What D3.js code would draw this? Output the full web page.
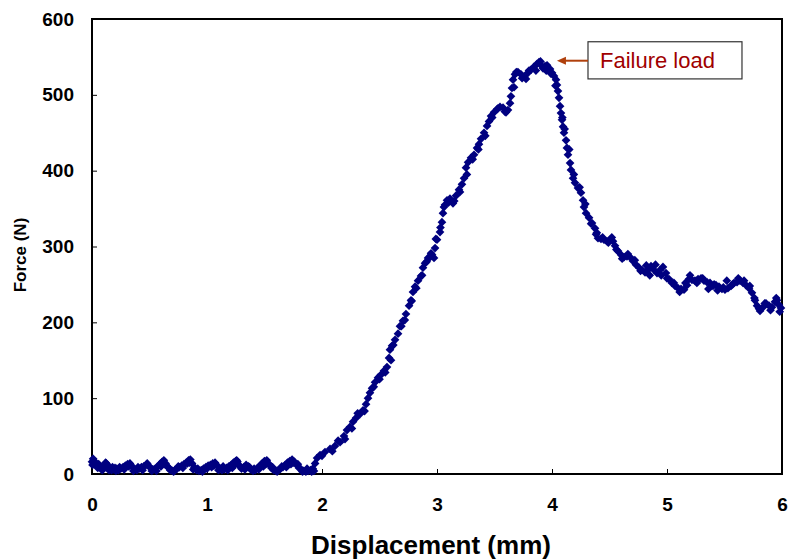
<!DOCTYPE html>
<html>
<head>
<meta charset="utf-8">
<script src="https://cdn.jsdelivr.net/npm/d3@7"></script>
<style>
  html, body { margin: 0; padding: 0; background: #fff; }
  svg { display: block; font-family: "Liberation Sans", Arial, sans-serif; }
</style>
</head>
<body>
<svg id="chart" width="788" height="560"></svg>
<script>
// ---- Data ----
const displacement = [
  0.000,0.010,0.020,0.035,0.050,0.065,0.080,0.095,0.110,0.125,0.140,0.155,0.170,0.185,0.200,0.215,0.230,0.250,0.270,0.290,
  0.310,0.330,0.350,0.370,0.390,0.410,0.430,0.450,0.470,0.490,0.510,0.530,0.550,0.570,0.590,0.610,0.625,0.640,0.660,0.680,
  0.700,0.720,0.740,0.760,0.780,0.800,0.820,0.840,0.855,0.870,0.890,0.910,0.930,0.950,0.970,0.990,1.010,1.030,1.050,1.070,
  1.090,1.110,1.130,1.150,1.170,1.190,1.210,1.230,1.250,1.265,1.280,1.300,1.320,1.340,1.360,1.380,1.400,1.420,1.440,1.460,
  1.480,1.500,1.520,1.540,1.560,1.580,1.600,1.620,1.640,1.660,1.680,1.700,1.720,1.740,1.760,1.780,1.800,1.820,1.840,1.860,
  1.880,1.900,1.920,1.940,
  1.957,1.983,2.026,2.070,2.113,2.157,2.191,2.217,2.243,2.270,2.296,2.330,2.357,2.383,2.400,2.417,2.435,2.461,2.487,2.513,
  2.539,2.565,2.583,2.591,2.609,2.635,2.661,2.678,2.704,2.730,2.757,2.774,2.791,2.809,2.835,2.861,2.878,2.896,2.922,2.948,
  2.957,2.974,2.983,3.000,3.026,3.043,3.052,3.070,3.087,3.113,3.139,3.165,3.191,3.217,3.235,3.252,3.270,3.296,3.322,3.348,
  3.365,3.383,3.409,3.435,3.452,3.470,3.496,3.522,3.548,3.574,3.600,3.617,3.635,3.643,3.652,3.661,3.678,3.704,3.730,3.757,
  3.774,3.791,3.817,3.843,3.870,3.887,3.904,3.922,3.939,3.957,3.983,4.000,4.017,4.035,4.043,4.052,4.061,4.070,4.078,4.087,
  4.096,4.104,4.122,4.130,4.139,4.157,4.165,4.183,4.200,4.226,4.252,4.270,4.278,4.296,4.322,4.348,4.374,4.383,4.400,4.426,
  4.452,4.478,4.504,4.530,4.548,4.574,4.600,4.626,4.652,4.678,4.704,4.730,4.757,4.783,4.809,4.835,4.861,4.887,4.913,4.939,
  4.965,4.991,5.017,5.043,5.070,5.096,5.122,5.148,5.174,5.191,5.217,5.243,5.270,5.296,5.322,5.348,5.374,5.400,5.426,5.452,
  5.478,5.504,5.530,5.557,5.583,5.609,5.635,5.661,5.687,5.713,5.739,5.765,5.783,5.809,5.835,5.861,5.887,5.913,5.939,5.957,
  5.974,5.991,
  // additional scattered readings
  0.005,0.028,0.058,0.088,0.118,0.148,0.178,0.208,0.240,0.280,0.320,0.360,0.400,0.440,0.480,0.520,0.560,0.600,0.632,0.670,
  0.710,0.750,0.790,0.830,0.848,0.880,0.920,0.960,1.000,1.040,1.060,1.100,1.140,1.180,1.220,1.240,1.258,1.290,1.330,1.370,
  1.410,1.450,1.490,1.510,1.530,1.570,1.610,1.650,1.690,1.730,1.750,1.790,1.830,1.870,1.910,1.930,
  2.000,2.090,2.140,2.200,2.260,2.310,2.370,2.450,2.500,2.550,2.600,2.620,2.690,2.720,2.780,2.820,2.870,2.910,2.940,2.990,
  3.030,3.060,3.100,3.150,3.200,3.260,3.310,3.360,3.420,3.480,3.530,3.590,3.670,3.690,3.740,3.800,3.860,3.900,3.950,3.990,
  4.030,4.090,4.110,4.150,4.190,4.240,4.290,4.340,4.390,4.440,4.490,4.520,4.560,4.610,4.660,4.720,4.770,4.820,4.850,4.900,
  4.950,5.000,5.060,5.110,5.160,5.200,5.260,5.310,5.360,5.410,5.440,5.490,5.520,5.570,5.620,5.670,5.720,5.760,5.800,5.850,
  5.900,5.950,5.980
];
const force = [
  16,20,17,12,8,10,9,6,10,14,11,7,5,6,8,7,5,7,9,11,
  13,14,10,6,5,7,9,10,12,11,8,6,7,10,13,16,18,14,9,5,
  4,5,7,9,11,13,15,18,19,14,9,5,4,5,7,9,11,12,14,15,
  11,7,5,6,8,10,12,15,17,16,11,7,9,12,10,6,4,5,8,11,
  14,17,18,13,8,5,4,5,7,9,12,15,17,19,16,12,8,6,4,3,
  4,5,7,14,
  21,25,29,33,37,42,50,58,62,69,74,79,84,92,100,107,113,121,127,131,
  136,141,153,164,169,177,185,195,202,211,222,229,240,247,255,261,272,278,285,291,
  289,285,298,309,319,332,344,355,361,363,357,367,375,382,390,404,411,417,421,430,
  435,442,450,459,465,472,477,481,484,483,477,480,489,498,509,520,527,530,527,524,
  521,529,533,537,541,543,539,535,538,539,534,529,525,520,513,505,496,485,476,467,
  458,450,440,430,421,410,401,390,384,377,371,361,352,344,338,331,324,316,311,310,
  309,307,309,307,301,294,289,286,287,286,281,276,272,269,266,269,274,269,265,269,
  273,265,257,252,248,245,244,243,249,257,256,255,257,258,255,253,252,248,249,247,
  244,243,245,248,252,253,255,252,249,245,239,229,222,215,220,225,222,220,227,229,
  223,219,
  // additional scattered readings
  12,14,13,5,15,5,9,4,9,6,10,4,9,5,14,4,4,10,13,8,
  3,10,8,14,15,6,7,3,7,9,11,5,10,5,8,12,18,10,6,9,
  7,6,10,13,14,9,3,10,9,13,15,13,3,7,3,4,
  24,30,44,46,60,80,83,115,125,134,150,170,195,203,228,245,262,280,286,310,
  325,352,358,360,372,395,415,428,446,470,482,478,510,530,522,532,532,544,532,528,
  512,470,455,428,395,378,356,330,318,312,305,312,296,284,290,282,268,275,262,276,
  262,258,252,240,252,262,252,258,244,250,242,246,255,250,258,255,248,232,218,225,
  216,232,214
];
const xTicks = [0, 1, 2, 3, 4, 5, 6];
const yTicks = [0, 100, 200, 300, 400, 500, 600];
const annotation = { label: "Failure load", tipX: 4.043, tipY: 545, boxX0: 4.313, boxX1: 5.652, boxY0: 570, boxY1: 521 };

(function () {
  const svg = d3.select("#chart");
  const mLeft = 92, mRight = 782, mTop = 19, mBottom = 474;
  const x = d3.scaleLinear().domain([0, 6]).range([mLeft, mRight]);
  const y = d3.scaleLinear().domain([0, 600]).range([mBottom, mTop]);

  // frame
  svg.append("rect")
    .attr("x", mLeft).attr("y", mTop)
    .attr("width", mRight - mLeft).attr("height", mBottom - mTop)
    .attr("fill", "none").attr("stroke", "#000").attr("stroke-width", 2);

  // x axis
  const gx = svg.append("g").attr("transform", `translate(0,${mBottom})`)
    .call(d3.axisBottom(x).tickValues(xTicks).tickFormat(d3.format("d"))
      .tickSizeInner(-5).tickSizeOuter(0).tickPadding(24));
  gx.select(".domain").remove();
  gx.selectAll(".tick line").attr("stroke", "#000").attr("stroke-width", 1);
  gx.selectAll(".tick text").attr("font-size", 19).attr("font-weight", "bold")
    .attr("fill", "#000").attr("font-family", "'Liberation Sans', Arial, sans-serif");

  // y axis
  const gy = svg.append("g").attr("transform", `translate(${mLeft},0)`)
    .call(d3.axisLeft(y).tickValues(yTicks).tickFormat(d3.format("d"))
      .tickSizeInner(-5).tickSizeOuter(0).tickPadding(18));
  gy.select(".domain").remove();
  gy.selectAll(".tick line").attr("stroke", "#000").attr("stroke-width", 1);
  gy.selectAll(".tick text").attr("font-size", 19).attr("font-weight", "bold")
    .attr("fill", "#000").attr("font-family", "'Liberation Sans', Arial, sans-serif");

  // axis titles
  svg.append("text")
    .attr("x", (mLeft + mRight) / 2 - 6).attr("y", 554)
    .attr("text-anchor", "middle").attr("font-size", 26).attr("font-weight", "bold")
    .text("Displacement (mm)");
  svg.append("text")
    .attr("transform", `translate(26,255) rotate(-90)`)
    .attr("text-anchor", "middle").attr("font-size", 17).attr("font-weight", "bold")
    .text("Force (N)");

  // data markers (diamonds)
  const pts = displacement.map((d, i) => ({ d, f: force[i] }));
  const diamond = d3.symbol().type(d3.symbolSquare).size(38)();
  svg.append("g").selectAll("path").data(pts).join("path")
    .attr("d", diamond)
    .attr("transform", p => `translate(${x(p.d)},${y(p.f)}) rotate(45)`)
    .attr("fill", "#000080");

  // annotation
  const bx0 = x(annotation.boxX0), bx1 = x(annotation.boxX1);
  const by0 = y(annotation.boxY0), by1 = y(annotation.boxY1);
  svg.append("rect")
    .attr("x", bx0).attr("y", by0).attr("width", bx1 - bx0).attr("height", by1 - by0)
    .attr("fill", "#fff").attr("stroke", "#333").attr("stroke-width", 1.2);
  svg.append("text")
    .attr("x", bx0 + 12).attr("y", by0 + 26)
    .attr("font-size", 22).attr("fill", "#a00000")
    .attr("font-family", "'Liberation Sans', Arial, sans-serif")
    .text(annotation.label);
  const tx = x(annotation.tipX), ty = y(annotation.tipY);
  svg.append("line")
    .attr("x1", bx0).attr("y1", ty).attr("x2", tx + 6).attr("y2", ty)
    .attr("stroke", "#b0400c").attr("stroke-width", 2);
  svg.append("path")
    .attr("d", `M${tx},${ty} L${tx + 9},${ty - 4} L${tx + 9},${ty + 4} Z`)
    .attr("fill", "#b0400c");
})();
</script>
</body>
</html>
